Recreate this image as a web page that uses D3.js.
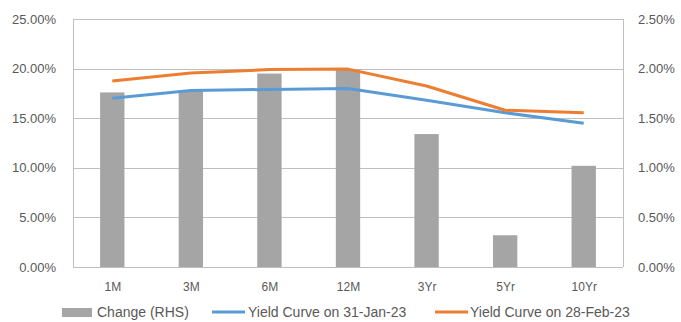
<!DOCTYPE html>
<html><head><meta charset="utf-8">
<script src="https://cdn.jsdelivr.net/npm/d3@7"></script>
<style>body{margin:0;background:#fff;}svg{display:block;font-family:"Liberation Sans",Arial,sans-serif;}</style>
</head><body>
<script>
const categories = ["1M","3M","6M","12M","3Yr","5Yr","10Yr"];
const changeRHS = [1.76, 1.78, 1.95, 1.99, 1.34, 0.32, 1.02];
const yieldJan = [17.0, 17.8, 17.9, 18.0, 16.8, 15.55, 14.5];
const yieldFeb = [18.75, 19.55, 19.9, 19.95, 18.25, 15.8, 15.55];
const leftTicks = [0,5,10,15,20,25];
const rightTicks = [0,0.5,1,1.5,2,2.5];
const legendLabels = ["Change (RHS)","Yield Curve on 31-Jan-23","Yield Curve on 28-Feb-23"];

const W=681,H=322;
const m={l:73,r:58,t:19,b:55};
const svg=d3.select("body").append("svg").attr("width",W).attr("height",H);
const x=d3.scaleBand().domain(categories).range([m.l,W-m.r]).paddingInner(0.69).paddingOuter(0.345);
const xc=d3.scalePoint().domain(categories).range([m.l,W-m.r]).padding(0.5);
const yL=d3.scaleLinear().domain([0,25]).range([H-m.b,m.t]);
const yR=d3.scaleLinear().domain([0,2.5]).range([H-m.b,m.t]);
const grid="#bfbfbf", txt="#595959";

// gridlines
svg.append("g").selectAll("line").data(leftTicks).join("line")
  .attr("x1",m.l).attr("x2",W-m.r).attr("y1",d=>Math.round(yL(d))+0.5).attr("y2",d=>Math.round(yL(d))+0.5)
  .attr("stroke",grid).attr("stroke-width",1);
// side borders
[m.l,W-m.r].forEach(px=>svg.append("line").attr("x1",px+0.5).attr("x2",px+0.5).attr("y1",yL(25)).attr("y2",yL(0)).attr("stroke",grid));

// left axis
const axL=svg.append("g").attr("transform",`translate(${m.l-14},0)`)
  .call(d3.axisLeft(yL).tickValues(leftTicks).tickSize(0).tickFormat(d=>d.toFixed(2)+"%"));
axL.select(".domain").remove();
axL.selectAll("text").attr("fill",txt).style("font-size","13px");
// right axis
const axR=svg.append("g").attr("transform",`translate(${W-m.r+12},0)`)
  .call(d3.axisRight(yR).tickValues(rightTicks).tickSize(0).tickFormat(d=>d.toFixed(2)+"%"));
axR.select(".domain").remove();
axR.selectAll("text").attr("fill",txt).style("font-size","13px");
// x axis
const axX=svg.append("g").attr("transform",`translate(0,${H-m.b+12})`)
  .call(d3.axisBottom(xc).tickSize(0));
axX.select(".domain").remove();
axX.selectAll("text").attr("fill",txt).style("font-size","12px");

// bars
svg.append("g").selectAll("rect").data(changeRHS).join("rect")
  .attr("x",(d,i)=>x(categories[i])).attr("width",x.bandwidth())
  .attr("y",d=>yR(d)).attr("height",d=>yR(0)-yR(d)).attr("fill","#a5a5a5");

// lines
const line=d3.line().x((d,i)=>xc(categories[i])).y(d=>yL(d));
svg.append("path").datum(yieldJan).attr("d",line).attr("fill","none").attr("stroke","#5b9bd5").attr("stroke-width",3).attr("stroke-linejoin","round");
svg.append("path").datum(yieldFeb).attr("d",line).attr("fill","none").attr("stroke","#ed7d31").attr("stroke-width",3).attr("stroke-linejoin","round");

// legend
const lg=svg.append("g").style("font-size","14px").attr("fill",txt);
const ly=312;
lg.append("rect").attr("x",62).attr("y",ly-4).attr("width",30).attr("height",9).attr("fill","#a5a5a5");
lg.append("text").attr("x",97).attr("y",ly).attr("dy","0.35em").text(legendLabels[0]).attr("fill",txt);
lg.append("line").attr("x1",212).attr("x2",245).attr("y1",ly).attr("y2",ly).attr("stroke","#5b9bd5").attr("stroke-width",3);
lg.append("text").attr("x",248).attr("y",ly).attr("dy","0.35em").text(legendLabels[1]).attr("fill",txt);
lg.append("line").attr("x1",435).attr("x2",468).attr("y1",ly).attr("y2",ly).attr("stroke","#ed7d31").attr("stroke-width",3);
lg.append("text").attr("x",470).attr("y",ly).attr("dy","0.35em").text(legendLabels[2]).attr("fill",txt);
</script>
</body></html>
